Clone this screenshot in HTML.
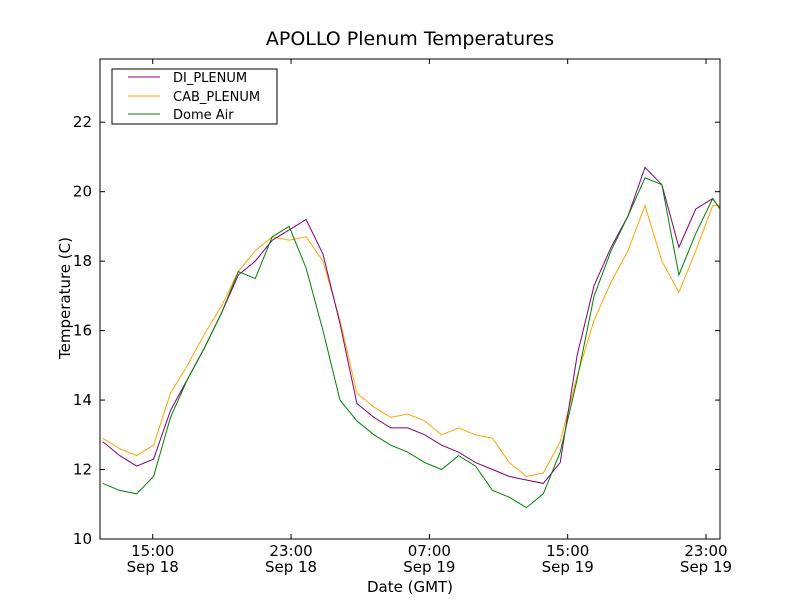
<!DOCTYPE html>
<html><head><meta charset="utf-8"><style>
body{margin:0;background:#fff;}
svg{display:block;font-family:"DejaVu Sans","Liberation Sans",sans-serif;}
</style></head><body>
<svg id="chart" width="800" height="600" viewBox="0 0 800 600">
<rect width="800" height="600" fill="#fff"/>
<text x="410" y="45" font-size="19" text-anchor="middle">APOLLO Plenum Temperatures</text>
<g id="plot"></g>
<text x="410" y="592" font-size="15" text-anchor="middle">Date (GMT)</text>
<text transform="translate(70,298) rotate(-90)" font-size="15" text-anchor="middle">Temperature (C)</text>
<g>
<rect x="112" y="69" width="165" height="55" fill="#fff" stroke="#000" stroke-width="1"/>
<line x1="128" y1="77" x2="160" y2="77" stroke="purple"/>
<text x="173" y="82" font-size="13">DI_PLENUM</text>
<line x1="128" y1="96" x2="160" y2="96" stroke="orange"/>
<text x="173" y="101" font-size="13">CAB_PLENUM</text>
<line x1="128" y1="114" x2="160" y2="114" stroke="green"/>
<text x="173" y="119" font-size="13">Dome Air</text>
</g>
</svg>
<script>
const hours = [12.11,13.09,14.07,15.05,16.03,17.01,17.99,18.97,19.95,20.93,21.91,22.89,23.87,24.85,25.83,26.81,27.79,28.77,29.75,30.73,31.71,32.69,33.67,34.65,35.63,36.61,37.59,38.57,39.55,40.53,41.51,42.49,43.47,44.45,45.43,46.41,47.39,47.82];
const domeAir = [11.6,11.4,11.3,11.8,13.5,14.6,15.5,16.5,17.7,17.5,18.7,19.0,17.8,16.0,14.0,13.4,13.0,12.7,12.5,12.2,12.0,12.4,12.1,11.4,11.2,10.9,11.3,12.5,14.6,17.0,18.3,19.3,20.4,20.2,17.6,18.8,19.8,19.5];
const diPlenum = [12.8,12.4,12.1,12.3,13.7,14.6,15.5,16.5,17.6,18.0,18.6,18.9,19.2,18.2,16.2,13.9,13.5,13.2,13.2,13.0,12.7,12.5,12.2,12.0,11.8,11.7,11.6,12.2,15.3,17.3,18.4,19.3,20.7,20.2,18.4,19.5,19.8,19.5];
const cabPlenum = [12.9,12.6,12.4,12.7,14.2,15.0,15.9,16.7,17.7,18.3,18.7,18.6,18.7,18.0,16.3,14.2,13.8,13.5,13.6,13.4,13.0,13.2,13.0,12.9,12.2,11.8,11.9,12.8,14.7,16.3,17.4,18.3,19.6,18.0,17.1,18.3,19.6,19.6];
const yTicks = [10,12,14,16,18,20,22];
const xTickHours = [15,23,31,39,47];
const xTickTimes = ["15:00","23:00","07:00","15:00","23:00"];
const xTickDates = ["Sep 18","Sep 18","Sep 19","Sep 19","Sep 19"];

const L=100,R=720,T=59,B=539;
const xMin=11.95,xMax=47.81,yMin=10,yMax=23.82;
const xs=h=>L+(h-xMin)/(xMax-xMin)*(R-L);
const ys=v=>B-(v-yMin)/(yMax-yMin)*(B-T);
const NS="http://www.w3.org/2000/svg";
const g=document.getElementById('plot');
function mk(tag,attrs){const e=document.createElementNS(NS,tag);for(const k in attrs)e.setAttribute(k,attrs[k]);g.appendChild(e);return e;}

function series(vals,color,name){
  const d=hours.map((h,i)=>(i?'L':'M')+xs(h).toFixed(1)+','+ys(vals[i]).toFixed(1)).join(' ');
  const p=mk('path',{d:d,fill:'none',stroke:color,'stroke-width':1});
  
  
}
series(cabPlenum,'orange','cab-plenum-line');
series(diPlenum,'purple','di-plenum-line');
series(domeAir,'green','dome-air-line');

const frame=mk('rect',{x:L,y:T,width:R-L,height:B-T,fill:'none',stroke:'#000','stroke-width':1});



yTicks.forEach(v=>{
  const y=ys(v);
  mk('line',{x1:L,y1:y,x2:L+5,y2:y,stroke:'#000'});
  mk('line',{x1:R,y1:y,x2:R-5,y2:y,stroke:'#000'});
  const t=mk('text',{x:L-8,y:y+5,'font-size':15,'text-anchor':'end'});
  t.textContent=v;
  
  
});
xTickHours.forEach((h,i)=>{
  const x=xs(h);
  mk('line',{x1:x,y1:B,x2:x,y2:B-5,stroke:'#000'});
  mk('line',{x1:x,y1:T,x2:x,y2:T+5,stroke:'#000'});
  const t=mk('text',{x:x,y:B+17,'font-size':15,'text-anchor':'middle'});
  t.textContent=xTickTimes[i];
  
  
  const t2=mk('text',{x:x,y:B+33,'font-size':15,'text-anchor':'middle'});
  t2.textContent=xTickDates[i];
  
  
});
</script>
</body></html>
